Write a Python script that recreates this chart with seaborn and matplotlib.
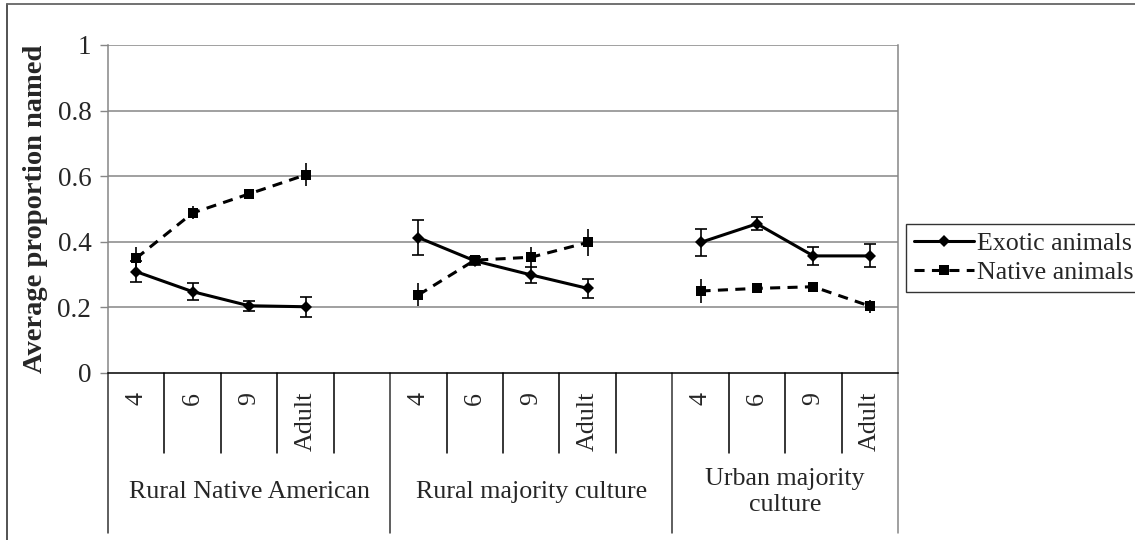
import numpy as np
import pandas as pd
import matplotlib
matplotlib.use("Agg")
import matplotlib.pyplot as plt
from matplotlib.lines import Line2D
import seaborn as sns

# ---- data -------------------------------------------------------------
groups = ["Rural Native American", "Rural majority culture", "Urban majority\nculture"]
ages = ["4", "6", "9", "Adult"]
series = ["Exotic animals", "Native animals"]

exotic_mean = [0.309, 0.248, 0.205, 0.202,
               0.413, 0.342, 0.299, 0.258,
               0.398, 0.455, 0.357, 0.357]
exotic_err = [0.032, 0.026, 0.016, 0.030,
              0.053, 0.012, 0.025, 0.030,
              0.040, 0.020, 0.028, 0.035]
native_mean = [0.350, 0.488, 0.546, 0.604,
               0.238, 0.344, 0.353, 0.398,
               0.250, 0.258, 0.263, 0.204]
native_err = [0.035, 0.020, 0.015, 0.035,
              0.035, 0.012, 0.030, 0.040,
              0.036, 0.010, 0.015, 0.020]

# ---- long table; each group gets 4 age slots plus a spacer slot -------
slots_per_group = len(ages) + 1
rows = []
for s, means, errs in [(series[0], exotic_mean, exotic_err),
                       (series[1], native_mean, native_err)]:
    for g_i, g in enumerate(groups):
        for a_i, a in enumerate(ages):
            k = g_i * len(ages) + a_i
            rows.append(dict(series=s, group=g, age=a,
                             pos=g_i * slots_per_group + a_i + 0.5,
                             value=means[k], err=errs[k]))
df = pd.DataFrame(rows)
n_slots = slots_per_group * len(groups) - 1

# ---- style ------------------------------------------------------------
sns.set_theme(style="white")
plt.rcParams["font.family"] = ["Liberation Serif", "DejaVu Serif"]
FS = 18.7
FS_TICK = 19.5
GRID = "#868686"

fig = plt.figure(figsize=(11.35, 5.4), dpi=100)
ax = fig.add_axes([108 / 1135, 167 / 540, 790 / 1135, 328 / 540])

line_w = 2.2
dash_pat = (3.3, 2.4)
sns.lineplot(data=df, x="pos", y="value", style="series", units="group",
             estimator=None, color="black", linewidth=line_w,
             markers={series[0]: "D", series[1]: "s"},
             dashes={series[0]: "", series[1]: dash_pat},
             markersize=6.5, markeredgewidth=0, legend=False, ax=ax,
             zorder=3)

for s, cap in [(series[0], 4.3), (series[1], 0)]:
    sub = df[df.series == s]
    ax.errorbar(sub.pos, sub.value, yerr=sub.err, fmt="none",
                ecolor="black", elinewidth=1.2, capsize=cap,
                capthick=1.2, zorder=4)

# ---- value axis -------------------------------------------------------
ax.set_ylim(0, 1)
ax.set_xlim(0, n_slots)
yt = [0, 0.2, 0.4, 0.6, 0.8, 1.0]
ax.set_yticks(yt)
ax.set_yticklabels(["0", "0.2", "0.4", "0.6", "0.8", "1"], fontsize=FS_TICK)
ax.tick_params(axis="y", direction="out", length=6, width=1,
               color=GRID, pad=6, left=True)
ax.set_xticks([])
ax.set_xlabel("")
ax.set_ylabel("Average proportion named", fontsize=20.5,
              fontweight="bold", labelpad=7)
for y in yt[1:]:
    ax.axhline(y, color=GRID, lw=1.1, zorder=1)
ax.spines["top"].set_visible(False)
for side in ["left", "right"]:
    ax.spines[side].set_color(GRID)
    ax.spines[side].set_linewidth(1.1)
ax.spines["bottom"].set_color("black")
ax.spines["bottom"].set_linewidth(1.1)

# ---- two-level category axis -----------------------------------------
tr = ax.get_xaxis_transform()
h_px = 328.0
y_age = -80 / h_px
y_grp = -160 / h_px
for g_i in range(len(groups)):
    start = g_i * slots_per_group
    ax.plot([start, start], [0, y_grp], transform=tr, color="#333333",
            lw=1.1, clip_on=False)
    for a_i in range(1, slots_per_group):
        x = start + a_i
        if x >= n_slots:
            break
        ax.plot([x, x], [0, y_age], transform=tr, color="black",
                lw=1.1, clip_on=False)
ax.plot([n_slots, n_slots], [0, y_grp], transform=tr, color=GRID,
        lw=1.1, clip_on=False)

for _, r in df[df.series == series[0]].iterrows():
    ax.text(r.pos, -19 / h_px, r.age, transform=tr, rotation=90,
            ha="center", va="top", fontsize=FS)

for g_i, g in enumerate(groups):
    center = g_i * slots_per_group + len(ages) / 2 + (0.5 if g_i < 2 else 0)
    ax.text(center, -119 / h_px, g, transform=tr, ha="center",
            va="center", fontsize=FS, linespacing=1.25)

# ---- legend -----------------------------------------------------------
handles = [Line2D([], [], color="black", lw=line_w, marker="D", ms=6.5,
                  mew=0),
           Line2D([], [], color="black", lw=line_w, marker="s", ms=6.5,
                  mew=0, dashes=dash_pat)]
leg = fig.legend(handles, series, loc="center left",
                 bbox_to_anchor=(906 / 1135, 1 - 258 / 540),
                 fontsize=FS, frameon=True, fancybox=False,
                 edgecolor="black", handlelength=2.3, handletextpad=0.15,
                 borderpad=0.3, labelspacing=0.25, borderaxespad=0)
leg.get_frame().set_linewidth(1.0)

# ---- outer chart border (open on the right and bottom) ----------------
fig.add_artist(Line2D([6.5 / 1135, 6.5 / 1135], [0, 1 - 3.5 / 540],
                      transform=fig.transFigure, color="#444444", lw=1.3))
fig.add_artist(Line2D([6.5 / 1135, 1], [1 - 3.5 / 540, 1 - 3.5 / 540],
                      transform=fig.transFigure, color="#666666", lw=1.3))

fig.savefig("out.png", dpi=100, facecolor="white")
